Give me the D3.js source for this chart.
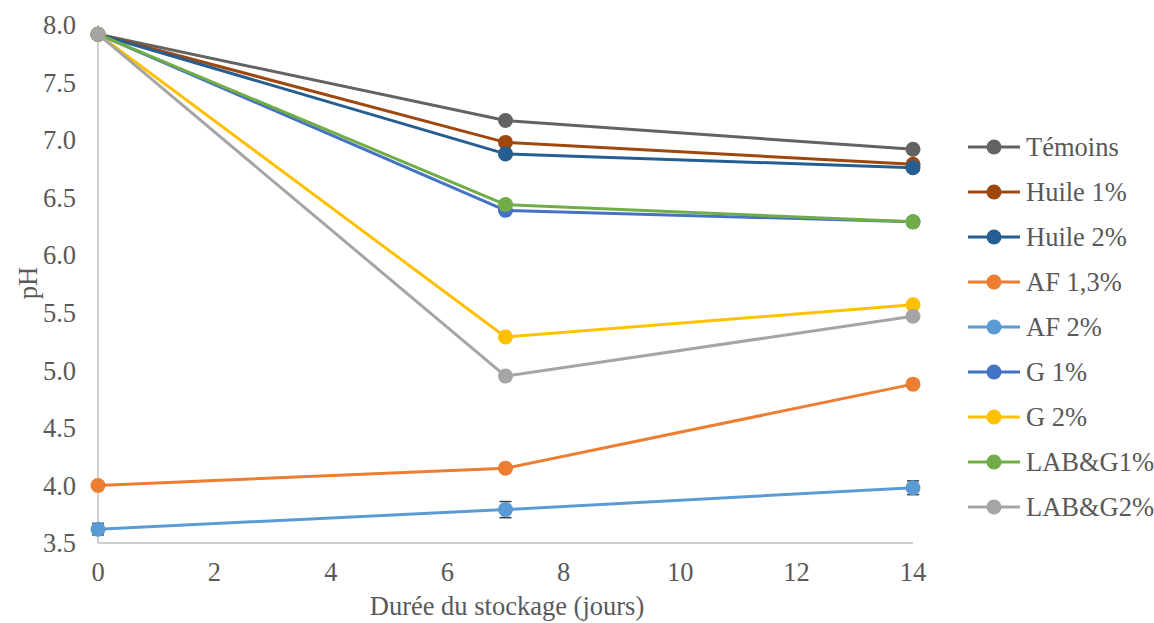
<!DOCTYPE html>
<html><head><meta charset="utf-8">
<script src="https://cdn.jsdelivr.net/npm/d3@7"></script>
<style>body{margin:0;background:#fff} text{font-family:"Liberation Serif","Times New Roman",serif;}</style>
</head><body>
<svg id="chart" width="1154" height="623"></svg>
<script>
const days = [0, 7, 14];
const seriesNames = ["Témoins","Huile 1%","Huile 2%","AF 1,3%","AF 2%","G 1%","G 2%","LAB&G1%","LAB&G2%"];
const colors = ["#636363","#9E480E","#255E91","#ED7D31","#5B9BD5","#4472C4","#FFC000","#70AD47","#A5A5A5"];
const temoins = [7.92, 7.17, 6.92];
const huile1 = [7.92, 6.98, 6.79];
const huile2 = [7.92, 6.88, 6.76];
const af13 = [4.00, 4.15, 4.88];
const af2 = [3.62, 3.79, 3.98];
const g1 = [7.92, 6.39, 6.29];
const g2 = [7.92, 5.29, 5.57];
const labg1 = [7.92, 6.44, 6.29];
const labg2 = [7.92, 4.95, 5.47];
const af2Err = [0.05, 0.07, 0.06];
const yTicks = [3.5,4.0,4.5,5.0,5.5,6.0,6.5,7.0,7.5,8.0];
const xTicks = [0,2,4,6,8,10,12,14];

const values = [temoins,huile1,huile2,af13,af2,g1,g2,labg1,labg2];
const errs = [null,null,null,null,af2Err,null,null,null,null];

const svg = d3.select("#chart");
const x = d3.scaleLinear().domain([0,14]).range([98,913]);
const y = d3.scaleLinear().domain([3.5,8.0]).range([543,25]);
const fs = 26.5;
const txt = "#595959";

svg.append("line").attr("x1",x(0)).attr("x2",x(0)).attr("y1",y(8)).attr("y2",y(3.5)).attr("stroke","#bfbfbf").attr("stroke-width",1.5);
svg.append("line").attr("x1",x(0)).attr("x2",x(14)).attr("y1",y(3.5)).attr("y2",y(3.5)).attr("stroke","#bfbfbf").attr("stroke-width",1.5);

svg.selectAll(".yt").data(yTicks).enter().append("text")
  .attr("x",76).attr("y",d=>y(d)).attr("dy","0.35em").attr("text-anchor","end")
  .attr("font-size",fs).attr("fill",txt).text(d=>d.toFixed(1));
svg.selectAll(".xt").data(xTicks).enter().append("text")
  .attr("x",d=>x(d)).attr("y",572).attr("dy","0.35em").attr("text-anchor","middle")
  .attr("font-size",fs).attr("fill",txt).text(d=>d);

svg.append("text").attr("x",507).attr("y",606).attr("dy","0.35em").attr("text-anchor","middle")
  .attr("font-size",fs).attr("fill",txt).text("Durée du stockage (jours)");
svg.append("text").attr("transform","translate(28,283) rotate(-90)").attr("dy","0.35em").attr("text-anchor","middle")
  .attr("font-size",fs).attr("fill",txt).text("pH");

const line = d3.line().x((d,i)=>x(days[i])).y(d=>y(d));
values.forEach((vals,k)=>{
  const g = svg.append("g");
  g.append("path").attr("d",line(vals)).attr("fill","none").attr("stroke",colors[k]).attr("stroke-width",3).attr("stroke-linejoin","round");
  if(errs[k]){
    vals.forEach((v,i)=>{
      const e = errs[k][i], cx = x(days[i]);
      g.append("line").attr("x1",cx).attr("x2",cx).attr("y1",y(v+e)).attr("y2",y(v-e)).attr("stroke","#404040").attr("stroke-width",1.2);
      [v+e,v-e].forEach(w=>g.append("line").attr("x1",cx-6).attr("x2",cx+6).attr("y1",y(w)).attr("y2",y(w)).attr("stroke","#404040").attr("stroke-width",1.5));
    });
  }
  g.selectAll("circle").data(vals).enter().append("circle")
    .attr("cx",(d,i)=>x(days[i])).attr("cy",d=>y(d)).attr("r",7.5).attr("fill",colors[k]);
});

const leg = svg.append("g");
seriesNames.forEach((n,k)=>{
  const ly = 147 + k*45;
  leg.append("line").attr("x1",968).attr("x2",1020).attr("y1",ly).attr("y2",ly).attr("stroke",colors[k]).attr("stroke-width",3);
  leg.append("circle").attr("cx",994).attr("cy",ly).attr("r",7.5).attr("fill",colors[k]);
  leg.append("text").attr("x",1026).attr("y",ly).attr("dy","0.35em").attr("font-size",fs).attr("fill",txt).text(n);
});
</script>
</body></html>
